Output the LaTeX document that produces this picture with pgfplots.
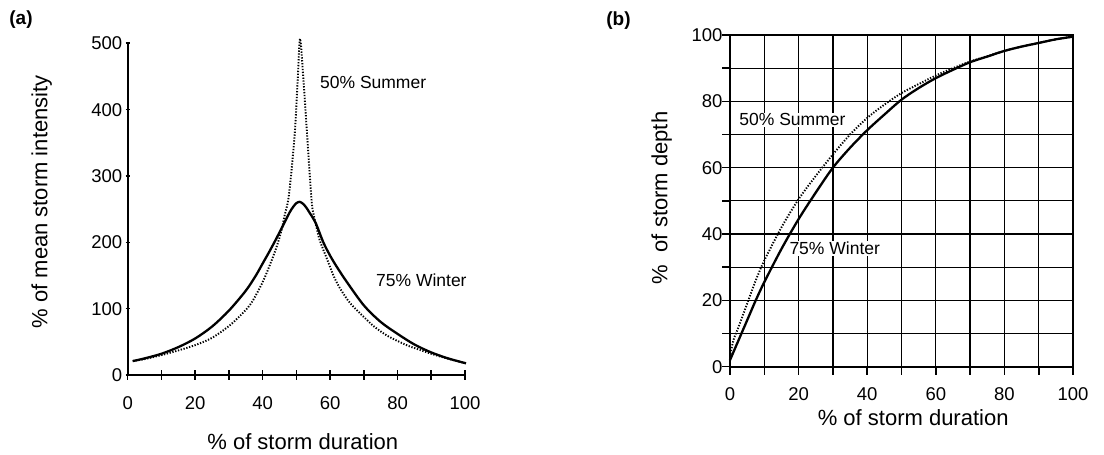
\documentclass[border=0pt]{standalone}
\usepackage{fontspec}
\setmainfont{Liberation Sans}
\usepackage{pgfplots}
\pgfplotsset{compat=1.18}
\tikzset{ann/.style={font=\fontsize{17.5}{20}\selectfont, anchor=west, inner sep=1pt}}
\begin{document}
\begin{tikzpicture}
\useasboundingbox (0pt,0pt) rectangle (1104pt,455pt);
\pgfplotsset{
 common/.style={
  scale only axis,
  /pgf/number format/assume math mode=true,
  tick label style={font=\fontsize{18.5}{20}\selectfont, black},
  label style={font=\fontsize{22}{25}\selectfont},
  xmin=0,xmax=100,
  tick style={black, line width=1.6pt},
  major tick length=10pt,
  tick align=outside,
  xtick={0,10,...,100},
  xticklabels={0,,20,,40,,60,,80,,100},
  xtick pos=bottom, ytick pos=left,
 },
 solidline/.style={black, line width=2.3pt, smooth, tension=0.5},
 dotline/.style={black, line width=1.9pt, dash pattern=on 1.3pt off 1.6pt, smooth, tension=0.5},
}
% ---------------- (a)
\begin{axis}[common, at={(127.7pt,80pt)}, anchor=south west,
  width=337.3pt, height=331.7pt, ymin=0, ymax=500,
  axis lines=left, axis line style={line width=1.9pt, -},
  xticklabel style={yshift=-13pt},
  ytick=\empty,
  extra y ticks={0,100,200,300,400,500},
  extra y tick style={major tick length=4pt},
  xlabel={\% of storm duration},
  ylabel={\% of mean storm intensity},
  xlabel style={at={(axis description cs:0.519,-0.201)}, anchor=center},
  ylabel style={at={(axis description cs:-0.255,0.522)}, anchor=center, rotate=0},
  clip=false]
\addplot[solidline] coordinates {
(1.5,21)(5,25)(10,32)(15,42)(20,55)(25,73)(30,97)(35,127)(38,150)(40,168)(42,186)
(44,205)(46,225)(48,245)(49,253)(50,259)(51,261)(52,258)(53,252)(54,244)(55,236)
(56,226)(58,200)(60,180)(62,163)(65,140)(70,105)(75,80)(80,62)(85,46)(90,34)(95,25)(100.3,17.6)};
\addplot[dotline] coordinates {
(1.5,21)(5,24)(10,30)(15,37)(20,45)(25,56)(30.3,75)(35,98)(37.2,113)(40,140)
(42,164)(44,191)(45.6,218)(46.5,240)(47.6,264)(48.6,310)(49.6,369)(50.4,445)(51.1,507)
(52.1,445)(53.1,369)(54.5,264)(55.2,240)(56.2,218)(57,202)(59,176)(61,150)(62.9,131)
(66,108)(70.9,83)(72.8,74)(77,59)(82.7,45)(86,39)(90,32)(95,24.5)(100.3,17.6)};
\node[ann] at (axis cs:56.7,441.6) {50\% Summer};
\node[ann] at (axis cs:73.3,143) {75\% Winter};
\end{axis}
% ---------------- (b)
\begin{axis}[common, at={(730pt,88.3pt)}, anchor=south west,
  width=343pt, height=331.7pt, ymin=0, ymax=100,
  axis line style={line width=1.7pt},
  grid=major, grid style={black, line width=1.3pt},
  ytick={0,10,...,100},
  yticklabels={,,,,,,,,,,},
  extra y ticks={0,20,40,60,80,100},
  extra y tick style={major tick length=4pt, grid=none},
  major tick length=8pt,
  xticklabel style={yshift=-9pt},
  xlabel={\% of storm duration},
  ylabel={\%\ \ of storm depth},
  xlabel style={at={(axis description cs:0.534,-0.155)}, anchor=center},
  ylabel style={at={(axis description cs:-0.199,0.509)}, anchor=center, rotate=0},
  clip=false]
\addplot[solidline] coordinates {
(0,2)(2.5,8)(5,14)(7.5,20)(10,25.5)(15,35.5)(20,44.5)(25,52.5)(30,60)(35,66)(40,71.3)
(45,76)(50,80.5)(55,84)(60,87)(65,89.5)(70,91.8)(75,93.5)(80,95.2)(85,96.5)(90,97.6)(95,98.7)(100,99.5)};
\addplot[dotline] coordinates {
(0,3)(1,8)(2.5,12)(5,19)(7.5,26)(10,32)(15,42)(20,50.5)(25,57.5)(30,64)(35,70)(40,75)
(45,79)(50,82.5)(55,85.2)(60,87.8)(65,90)(70,92)(75,93.6)(80,95.2)(85,96.5)(90,97.6)(95,98.7)(100,99.5)};
\node[ann, fill=white] at (axis cs:2.4,74.4) {50\% Summer};
\node[ann, fill=white] at (axis cs:17,35.7) {75\% Winter};
\end{axis}
\node[font=\bfseries\fontsize{19}{22}\selectfont] at (21pt,435pt) {(a)};
\node[font=\bfseries\fontsize{19}{22}\selectfont] at (618.5pt,434.5pt) {(b)};
\end{tikzpicture}
\end{document}
